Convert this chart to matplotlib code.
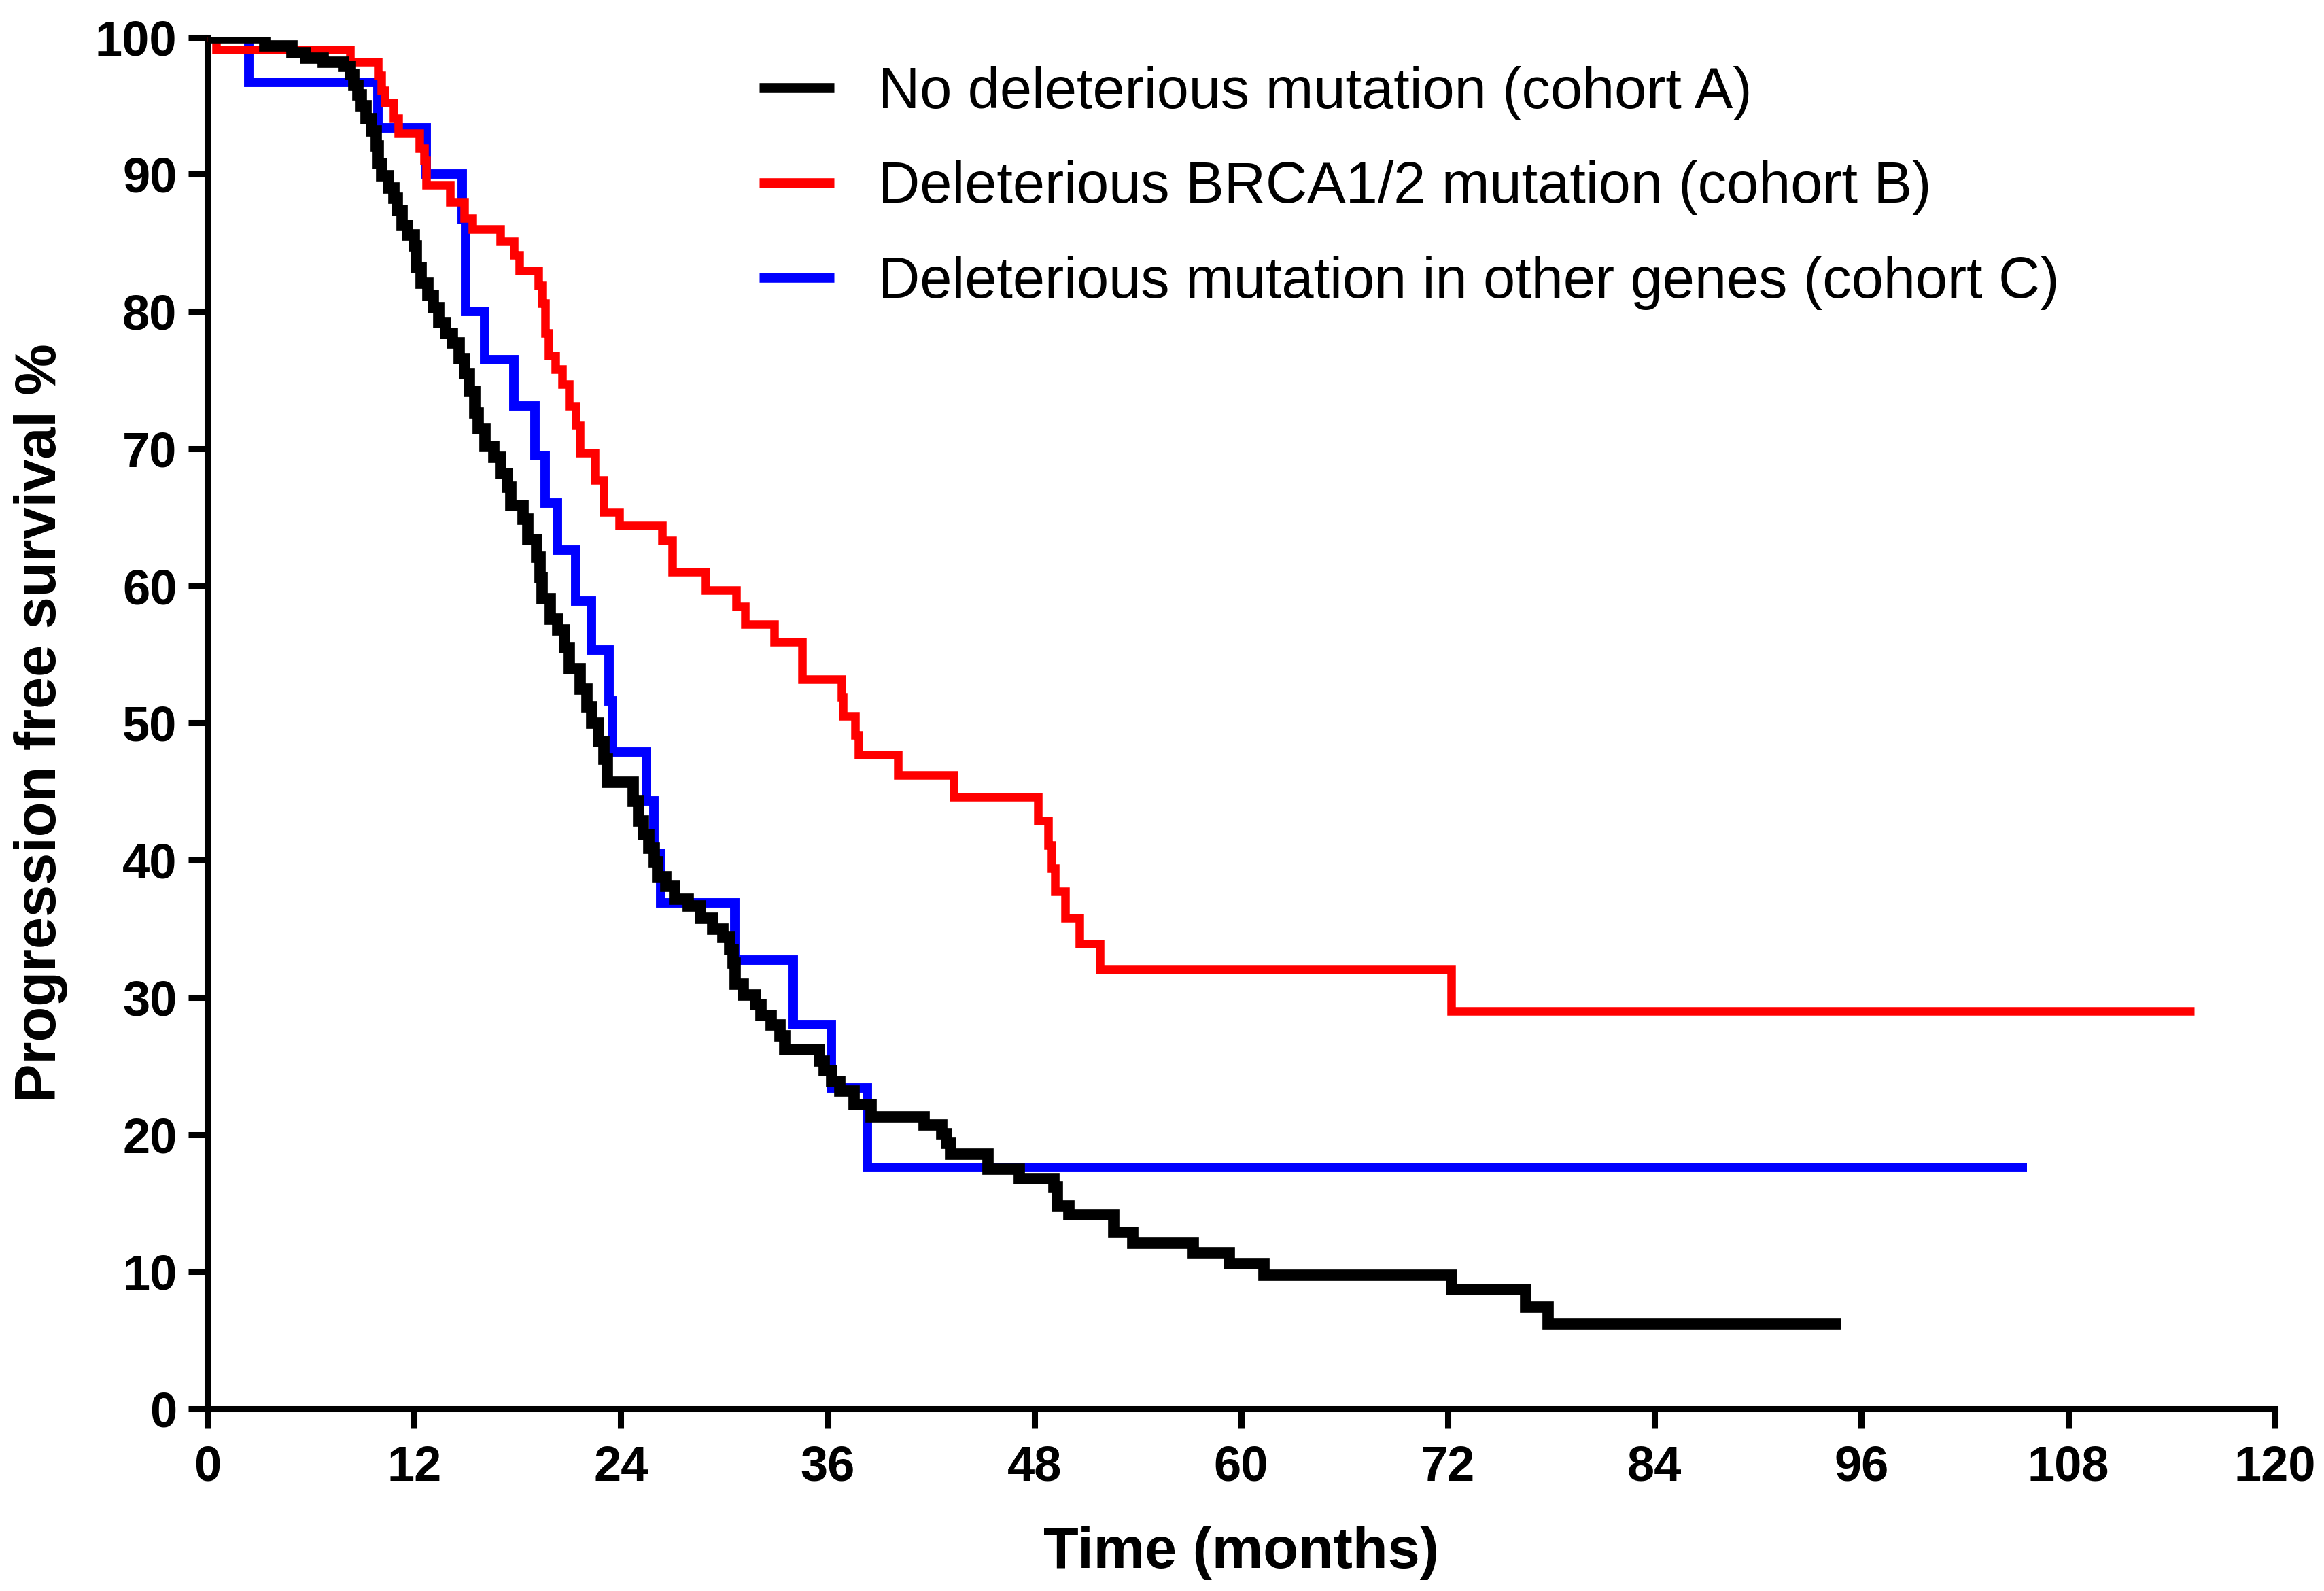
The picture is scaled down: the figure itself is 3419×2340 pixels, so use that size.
import numpy as np
import matplotlib.pyplot as plt

plt.rcParams['font.family'] = ['Liberation Sans', 'DejaVu Sans']

# cohort A - no deleterious mutation (times in months, PFS %)
time_a = [0, 3.3, 4.9, 5.7, 6.7, 7.9, 8.3, 8.5, 8.7, 8.9, 9.2, 9.5, 9.8, 9.9, 10.1,
          10.5, 10.8, 11.0, 11.3, 11.6, 12.0, 12.1, 12.4, 12.8, 13.1, 13.4, 13.8,
          14.2, 14.6, 14.9, 15.2, 15.5, 15.7, 16.1, 16.6, 17.0, 17.4, 17.6, 18.3,
          18.6, 19.1, 19.3, 19.4, 19.9, 20.3, 20.7, 21.0, 21.6, 22.0, 22.3, 22.7,
          23.0, 23.2, 24.7, 25.0, 25.3, 25.6, 25.9, 26.1, 26.6, 27.1, 27.9, 28.6,
          29.3, 29.9, 30.3, 30.5, 30.6, 31.1, 31.8, 32.1, 32.7, 33.2, 33.5, 35.5,
          35.8, 36.2, 36.7, 37.5, 38.5, 41.6, 42.6, 42.9, 43.1, 45.3, 47.1, 49.1,
          49.3, 50.0, 52.6, 53.7, 57.2, 59.3, 61.3, 72.2, 76.5, 77.8, 94.8]
surv_a = [100, 99.4, 98.9, 98.5, 98.2, 97.9, 97.3, 96.5, 95.8, 95.0, 94.1, 93.2, 92.1, 90.8, 89.9,
          89.0, 88.3, 87.4, 86.3, 85.6, 84.8, 83.2, 82.1, 81.2, 80.3, 79.2, 78.4,
          77.7, 76.6, 75.5, 74.2, 72.6, 71.5, 70.2, 69.4, 68.2, 67.2, 65.9, 64.9,
          63.4, 62.1, 60.6, 59.1, 57.6, 56.8, 55.5, 54.0, 52.5, 51.2, 50.0, 48.7,
          47.4, 45.7, 44.3, 42.9, 41.9, 40.9, 39.9, 38.8, 38.1, 37.2, 36.7, 35.8,
          35.0, 34.4, 33.5, 32.5, 31.0, 30.2, 29.5, 28.7, 28.0, 27.2, 26.2, 25.4,
          24.7, 23.9, 23.2, 22.2, 21.3, 20.7, 20.1, 19.4, 18.6, 17.5, 16.8, 16.2,
          14.8, 14.2, 12.9, 12.1, 11.4, 10.6, 9.75, 8.75, 7.45, 6.2, 6.2]

# cohort B - BRCA1/2
time_b = [0, 0.5, 8.3, 9.9, 10.1, 10.3, 10.8, 11.1, 12.3, 12.6, 12.7, 14.1, 14.9, 15.4,
          17.0, 17.8, 18.1, 19.2, 19.4, 19.6, 19.8, 20.2, 20.6, 21.0, 21.4, 21.6,
          22.5, 23.0, 23.9, 26.4, 27.0, 28.9, 30.7, 31.2, 32.9, 34.5, 36.8, 36.9,
          37.6, 37.8, 40.1, 43.3, 48.2, 48.8, 49.0, 49.2, 49.8, 50.6, 51.8, 72.2, 115.3]
surv_b = [100, 99.1, 98.2, 97.2, 96.1, 95.2, 94.1, 93.0, 91.9, 91.0, 89.2, 88.0, 86.8, 86.0,
          85.1, 84.1, 83.0, 81.9, 80.6, 78.4, 76.8, 75.8, 74.7, 73.1, 71.7, 69.7,
          67.7, 65.4, 64.4, 63.3, 61.0, 59.7, 58.5, 57.2, 55.9, 53.2, 51.9, 50.5,
          49.1, 47.7, 46.2, 44.6, 42.9, 41.1, 39.4, 37.7, 35.8, 33.9, 32.0, 29.0, 29.0]

# cohort C - other genes
time_c = [0, 2.4, 9.9, 12.7, 14.8, 15.0, 16.1, 17.8, 19.0, 19.6, 20.3, 21.4, 22.3, 23.3,
          23.5, 25.5, 25.9, 26.3, 30.6, 34.0, 36.2, 38.3, 105.6]
surv_c = [100, 96.7, 93.4, 90.0, 86.7, 80.0, 76.5, 73.1, 69.5, 66.0, 62.6, 58.9, 55.3, 51.6,
          47.9, 44.3, 40.5, 36.9, 32.7, 28.0, 23.4, 17.6, 17.6]

labels = ["No deleterious mutation (cohort A)",
          "Deleterious BRCA1/2 mutation (cohort B)",
          "Deleterious mutation in other genes (cohort C)"]

fig = plt.figure(figsize=(34.19, 23.40), dpi=100)
ax = fig.add_axes([0.0892, 0.1145, 0.8897, 0.8622])

lc, = ax.plot(time_c, surv_c, drawstyle='steps-post', color='#0000ff', lw=10,
              solid_capstyle='butt', solid_joinstyle='miter', zorder=2)
lb, = ax.plot(time_b, surv_b, drawstyle='steps-post', color='#ff0000', lw=9,
              solid_capstyle='butt', solid_joinstyle='miter', zorder=3)
la, = ax.plot(time_a, surv_a, drawstyle='steps-post', color='black', lw=12,
              solid_capstyle='butt', solid_joinstyle='miter', zorder=4)

ax.set_xlim(0, 120)
ax.set_ylim(0, 100)
ax.set_xticks(np.arange(0, 121, 12))
ax.set_yticks(np.arange(0, 101, 10))

for s in ['top', 'right']:
    ax.spines[s].set_visible(False)
for s in ['left', 'bottom']:
    ax.spines[s].set_linewidth(6.5)

ax.tick_params(axis='both', direction='out', length=20, width=6.5, pad=12,
               labelsize=52)
ax.tick_params(axis='x', pad=18)
for t in ax.get_xticklabels() + ax.get_yticklabels():
    t.set_fontweight('bold')

ax.set_xlabel("Time (months)", fontsize=61, fontweight='bold', labelpad=37)
ax.set_ylabel("Progression free survival %", fontsize=61, fontweight='bold')
ax.yaxis.set_label_coords(-0.0674, 0.5)

leg = ax.legend([la, lb, lc], labels, loc='upper left', bbox_to_anchor=(0.267, 0.979),
                frameon=False, fontsize=61, handlelength=1.3, handletextpad=0.76,
                labelspacing=0.70, borderpad=0, borderaxespad=0)
for h in leg.get_lines():
    h.set_linewidth(10.5)

fig.savefig("out.png", dpi=100)
